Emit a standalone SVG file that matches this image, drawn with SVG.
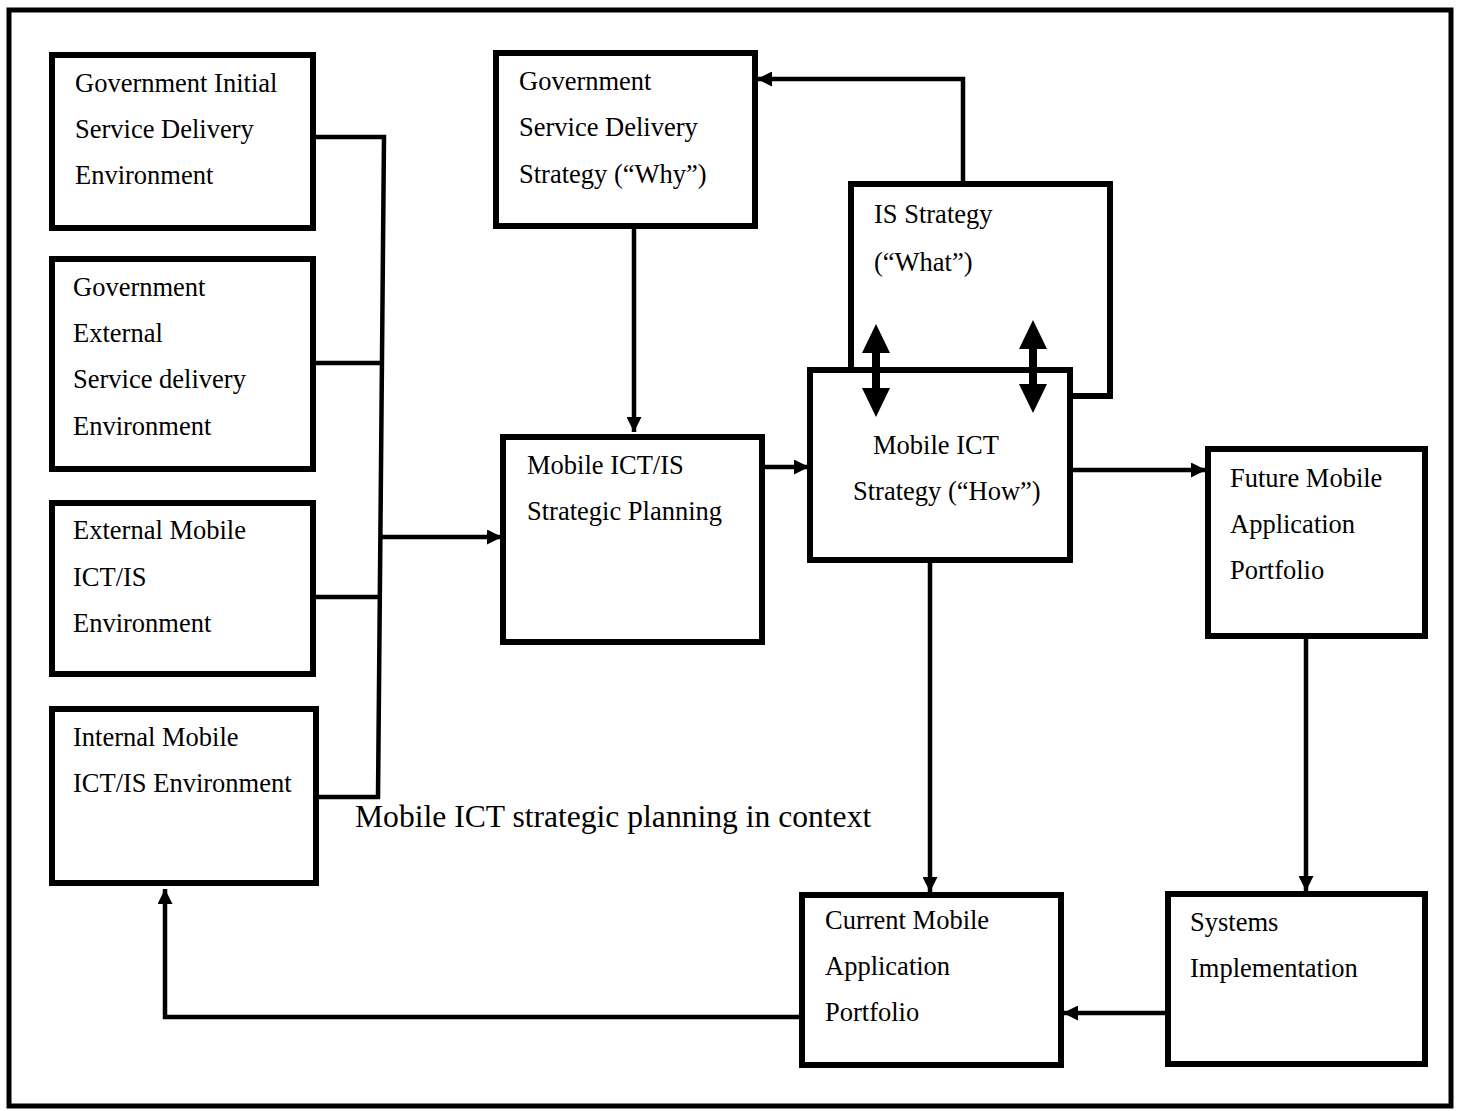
<svg xmlns="http://www.w3.org/2000/svg" width="1460" height="1111" viewBox="0 0 1460 1111">
  <style>
    .box { fill: #fff; stroke: #000; stroke-width: 6; }
    .lbl { font-family: "Liberation Serif", "Times New Roman", serif; font-size: 26.5px; fill: #000; }
    .cap { font-family: "Liberation Serif", "Times New Roman", serif; font-size: 31.6px; fill: #000; }
    .wire { fill: none; stroke: #000; stroke-width: 4.5; }
    .arr { fill: none; stroke: #000; stroke-width: 4.5; marker-end: url(#head); }
    .big { fill: #000; }
  </style>
  <defs>
    <marker id="head" viewBox="0 0 15 15" refX="15" refY="7.5" markerWidth="15" markerHeight="15" markerUnits="userSpaceOnUse" orient="auto">
      <path d="M0,0 L15,7.5 L0,15 z" fill="#000"/>
    </marker>
  </defs>

  <rect width="1460" height="1111" fill="#fff"/>
  <!-- outer frame -->
  <rect x="9" y="10" width="1442" height="1096" fill="none" stroke="#000" stroke-width="5"/>

  <!-- IS Strategy sits behind Mobile ICT Strategy -->
  <g id="is-strategy">
    <rect class="box" x="851" y="184" width="259" height="212"/>
    <text class="lbl" x="874" y="223">IS Strategy</text>
    <text class="lbl" x="874" y="271">(“What”)</text>
  </g>

  <g id="mobile-ict-strategy">
    <rect class="box" x="810" y="370" width="260" height="190"/>
    <text class="lbl" x="873" y="454">Mobile ICT</text>
    <text class="lbl" x="853" y="500">Strategy (“How”)</text>
  </g>

  <g id="gov-initial-env">
    <rect class="box" x="52" y="55" width="261" height="173"/>
    <text class="lbl" x="75" y="92">Government Initial</text>
    <text class="lbl" x="75" y="138">Service Delivery</text>
    <text class="lbl" x="75" y="184">Environment</text>
  </g>

  <g id="gov-external-env">
    <rect class="box" x="52" y="259" width="261" height="210"/>
    <text class="lbl" x="73" y="296">Government</text>
    <text class="lbl" x="73" y="342">External</text>
    <text class="lbl" x="73" y="388">Service delivery</text>
    <text class="lbl" x="73" y="435">Environment</text>
  </g>

  <g id="external-mobile-env">
    <rect class="box" x="52" y="503" width="261" height="171"/>
    <text class="lbl" x="73" y="539">External Mobile</text>
    <text class="lbl" x="73" y="586">ICT/IS</text>
    <text class="lbl" x="73" y="632">Environment</text>
  </g>

  <g id="internal-mobile-env">
    <rect class="box" x="52" y="709" width="264" height="174"/>
    <text class="lbl" x="73" y="746">Internal Mobile</text>
    <text class="lbl" x="73" y="792">ICT/IS Environment</text>
  </g>

  <g id="gov-service-strategy">
    <rect class="box" x="496" y="53" width="259" height="173"/>
    <text class="lbl" x="519" y="90">Government</text>
    <text class="lbl" x="519" y="136">Service Delivery</text>
    <text class="lbl" x="519" y="183">Strategy (“Why”)</text>
  </g>

  <g id="strategic-planning">
    <rect class="box" x="503" y="437" width="259" height="205"/>
    <text class="lbl" x="527" y="474">Mobile ICT/IS</text>
    <text class="lbl" x="527" y="520">Strategic Planning</text>
  </g>

  <g id="future-portfolio">
    <rect class="box" x="1208" y="449" width="217" height="187"/>
    <text class="lbl" x="1230" y="487">Future Mobile</text>
    <text class="lbl" x="1230" y="533">Application</text>
    <text class="lbl" x="1230" y="579">Portfolio</text>
  </g>

  <g id="systems-implementation">
    <rect class="box" x="1168" y="894" width="257" height="170"/>
    <text class="lbl" x="1190" y="931">Systems</text>
    <text class="lbl" x="1190" y="977">Implementation</text>
  </g>

  <g id="current-portfolio">
    <rect class="box" x="802" y="895" width="259" height="170"/>
    <text class="lbl" x="825" y="929">Current Mobile</text>
    <text class="lbl" x="825" y="975">Application</text>
    <text class="lbl" x="825" y="1021">Portfolio</text>
  </g>

  <g id="connectors">
    <!-- environment bus feeding strategic planning -->
    <polyline class="wire" points="313,137 384,137 378,797 319,797"/>
    <line class="wire" x1="313" y1="363" x2="381" y2="363"/>
    <line class="wire" x1="313" y1="597" x2="380" y2="597"/>
    <line class="arr" x1="381" y1="537" x2="502" y2="537"/>
    <!-- why -> planning -->
    <line class="arr" x1="634" y1="227" x2="634" y2="432"/>
    <!-- IS strategy -> why -->
    <polyline class="arr" points="963,184 963,79 757,79"/>
    <!-- planning -> how -->
    <line class="arr" x1="762" y1="467" x2="809" y2="467"/>
    <!-- how -> future portfolio -->
    <line class="arr" x1="1070" y1="470" x2="1206" y2="470"/>
    <!-- how -> current portfolio -->
    <line class="arr" x1="930" y1="563" x2="930" y2="892"/>
    <!-- future -> systems implementation -->
    <line class="arr" x1="1306" y1="636" x2="1306" y2="891"/>
    <!-- systems implementation -> current -->
    <line class="arr" x1="1166" y1="1013" x2="1063" y2="1013"/>
    <!-- current -> internal environment -->
    <polyline class="arr" points="800,1017 165,1017 165,889"/>
    <!-- two-way links between IS strategy and ICT strategy -->
    <path class="big" d="M876,324 L890,353 L880,353 L880,388 L890,388 L876,417 L862,388 L872,388 L872,353 L862,353 z"/>
    <path class="big" d="M1033,320 L1047,349 L1037,349 L1037,384 L1047,384 L1033,413 L1019,384 L1029,384 L1029,349 L1019,349 z"/>
  </g>

  <text class="cap" x="355" y="827">Mobile ICT strategic planning in context</text>
</svg>
